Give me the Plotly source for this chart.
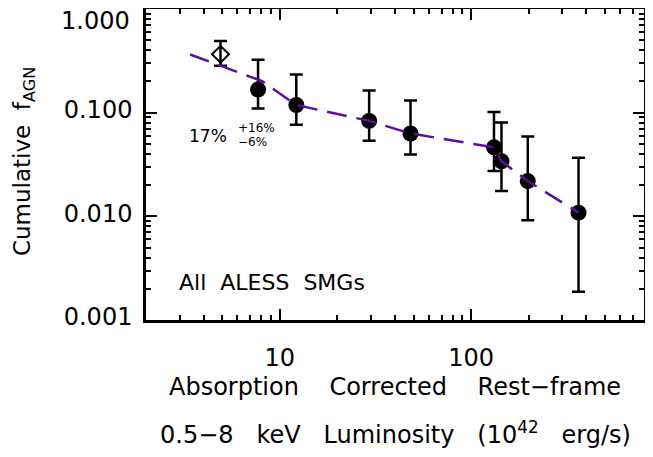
import numpy as np
import plotly.graph_objects as go

# cumulative AGN fraction vs. X-ray luminosity (10^42 erg/s)
lum = [7.7, 12.2, 29.3, 48.2, 131.6, 144.0, 197.6, 364.0]
frac = [0.167, 0.1185, 0.0833, 0.063, 0.0463, 0.034, 0.0219, 0.01085]
frac_hi = [0.324, 0.233, 0.1637, 0.1313, 0.1016, 0.0802, 0.059, 0.0367]
frac_lo = [0.110, 0.0763, 0.0537, 0.0394, 0.0273, 0.0176, 0.00918, 0.00187]

# open diamond point
dia_lum = [4.9]
dia_frac = [0.366]
dia_hi = [0.491]
dia_lo = [0.284]

# dashed model curve
model_lum = [3.4, 8.1, 12.2, 29.3, 48.2, 131.6, 144.0, 197.6, 364.0]
model_frac = [0.364, 0.201, 0.1185, 0.0833, 0.063, 0.0463, 0.034, 0.0219, 0.01085]

ytick_vals = [0.001, 0.01, 0.1, 1.0]
ytick_text = ["0.001", "0.010", "0.100", ""]  # top label drawn as annotation below
xtick_vals = [10, 100]
xtick_text = ["10", "100"]

FONT = "DejaVu Sans"

# minor ticks at 2..9 of each decade
x_minor = [m * 10.0 ** d for d in range(0, 3) for m in range(2, 10)]
y_minor = [m * 10.0 ** d for d in range(-3, 0) for m in range(2, 10)]

fig = go.Figure()

fig.add_trace(go.Scatter(
    x=dia_lum, y=dia_frac, mode="markers",
    marker=dict(symbol="diamond-open", size=13, color="black", line=dict(width=2, color="black")),
    error_y=dict(type="data", symmetric=False,
                 array=list(np.array(dia_hi) - np.array(dia_frac)),
                 arrayminus=list(np.array(dia_frac) - np.array(dia_lo)),
                 color="black", thickness=2.5, width=6.5),
    showlegend=False,
))

fig.add_trace(go.Scatter(
    x=lum, y=frac, mode="markers",
    marker=dict(symbol="circle", size=16, color="black"),
    error_y=dict(type="data", symmetric=False,
                 array=list(np.array(frac_hi) - np.array(frac)),
                 arrayminus=list(np.array(frac) - np.array(frac_lo)),
                 color="black", thickness=2.5, width=6.5),
    showlegend=False,
))

fig.add_trace(go.Scatter(
    x=model_lum, y=model_frac, mode="lines",
    line=dict(color="#5b0f9e", width=2.5, dash="20px,10px"),
    showlegend=False,
))

axis_common = dict(
    showline=True, linecolor="black", linewidth=2.5, mirror="ticks",
    ticks="inside", ticklen=11, tickwidth=2, tickcolor="black",
    showgrid=False, zeroline=False, ticklabeloverflow="allow",
    tickfont=dict(family=FONT, size=24, color="black"),
)

fig.update_xaxes(type="log", range=[np.log10(2), np.log10(800)],
                 tickvals=xtick_vals, ticktext=xtick_text, ticklabelstandoff=14,
                 minor=dict(ticks="inside", ticklen=5, tickwidth=2, tickcolor="black",
                            tickvals=x_minor, showgrid=False),
                 **axis_common)
fig.update_yaxes(type="log", range=[-3, 0],
                 tickvals=ytick_vals, ticktext=ytick_text, ticklabelstandoff=6,
                 ticklabelshift=-3,
                 minor=dict(ticks="inside", ticklen=5, tickwidth=2, tickcolor="black",
                            tickvals=y_minor, showgrid=False),
                 **axis_common)

fig.add_annotation(text="1.000", xref="paper", yref="paper", x=-0.028, y=0.96,
                   xanchor="right", yanchor="middle", showarrow=False,
                   font=dict(family=FONT, size=24, color="black"))

sp = "\u00a0" * 4
fig.add_annotation(text=sp.join(["Absorption", "Corrected", "Rest\u2212frame"]),
                   xref="paper", yref="paper", x=0.499, y=-0.215,
                   xanchor="center", yanchor="middle", showarrow=False,
                   font=dict(family=FONT, size=24, color="black"))
sp2 = "\u00a0" * 3
fig.add_annotation(text=sp2.join(["0.5\u22128", "keV", "Luminosity", "(10<sup>42</sup>", "erg/s)"]),
                   xref="paper", yref="paper", x=0.501, y=-0.363,
                   xanchor="center", yanchor="middle", showarrow=False,
                   font=dict(family=FONT, size=24, color="black"))

fig.add_annotation(text="Cumulative\u00a0\u00a0f<sub>AGN</sub>", xref="paper", yref="paper",
                   x=-0.245, y=0.511, textangle=-90, showarrow=False,
                   xanchor="center", yanchor="middle",
                   font=dict(family=FONT, size=23, color="black"))

fig.add_annotation(text="All\u00a0\u00a0ALESS\u00a0\u00a0SMGs", xref="paper", yref="paper",
                   x=0.062, y=0.119, xanchor="left", yanchor="middle", showarrow=False,
                   font=dict(family=FONT, size=22, color="black"))

fig.add_annotation(text="17%", xref="paper", yref="paper",
                   x=0.082, y=0.592, xanchor="left", yanchor="middle", showarrow=False,
                   font=dict(family=FONT, size=17, color="black"))
fig.add_annotation(text="+16%", xref="paper", yref="paper",
                   x=0.18, y=0.617, xanchor="left", yanchor="middle", showarrow=False,
                   font=dict(family=FONT, size=12, color="black"))
fig.add_annotation(text="\u22126%", xref="paper", yref="paper",
                   x=0.18, y=0.572, xanchor="left", yanchor="middle", showarrow=False,
                   font=dict(family=FONT, size=12, color="black"))

# page body adds an 8px margin, so the figure is sized to fit inside the window
fig.update_layout(
    width=637, height=441,
    margin=dict(l=138, r=1, t=1, b=129, autoexpand=False),
    paper_bgcolor="white", plot_bgcolor="white",
    font=dict(family=FONT, color="black"),
)

fig.write_html("out.html")
